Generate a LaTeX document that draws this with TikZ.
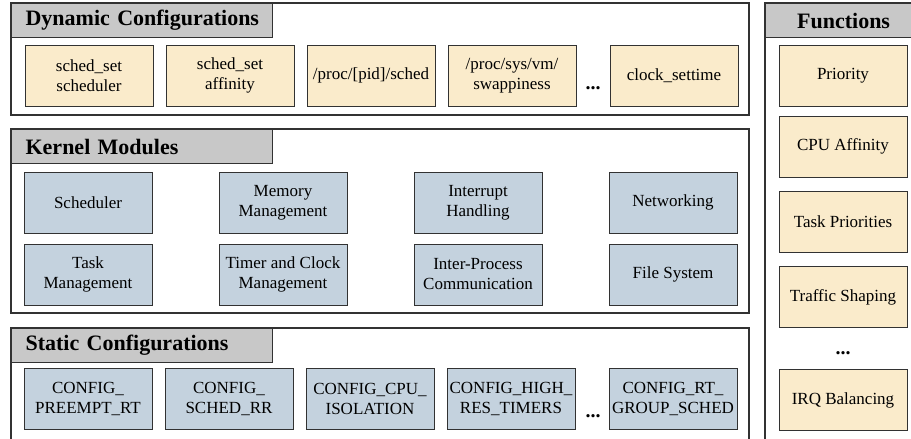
\documentclass[tikz,border=0pt]{standalone}
\usepackage{fontspec}
\setmainfont{DejaVu Serif}
\newfontfamily\timesfont{Liberation Serif}
\usetikzlibrary{positioning}
\definecolor{cfgcolor}{RGB}{250,235,203}
\definecolor{modcolor}{RGB}{196,210,222}
\definecolor{headcolor}{RGB}{200,200,200}
\definecolor{edgecolor}{RGB}{50,50,50}

\begin{document}
\begin{tikzpicture}[
    x=1pt, y=-1pt,
    node distance=10pt and 12pt,
    panel/.style={draw=edgecolor, line width=1.2pt, fill=white},
    head/.style={draw=edgecolor, line width=1.2pt, fill=headcolor, anchor=north west,
                 minimum height=34pt, inner xsep=14pt, inner ysep=0pt,
                 font=\fontsize{22}{26}\selectfont\timesfont\bfseries},
    box/.style={draw=edgecolor, line width=1pt, minimum width=128pt,
                minimum height=61pt, inner sep=1pt, align=center,
                font=\fontsize{17}{20}\selectfont\timesfont},
    cfg/.style={box, fill=cfgcolor},
    mod/.style={box, fill=modcolor},
    more/.style={inner sep=0pt, font=\fontsize{20}{20}\selectfont\timesfont\bfseries}
  ]
    \clip (0,0) rectangle (911,439);

    %% Panels
    \draw[panel] (11,3)   rectangle (749,115);
    \draw[panel] (11,129) rectangle (749,313);
    \draw[panel] (11,328) rectangle (749,460);
    \draw[panel] (765,3)  rectangle (921,460);

    \node[head, text width=233pt, align=left] (hdyn) at (11,3) {\mbox{Dynamic Configurations}};
    \node[head, text width=233pt, align=left] (hmod) at (11,129) {Kernel Modules};
    \node[head, text width=233pt, align=left] (hsta) at (11,328) {Static Configurations};
    \node[head, text width=128pt, align=center] (hfun) at (765,3) {Functions};

    %% Row 1: Dynamic configurations
    \node[cfg] (d1) at (89,75.5) {sched\_set\\scheduler};
    \node[cfg, right=of d1] (d2) {sched\_set\\affinity};
    \node[cfg, right=of d2] (d3) {/proc/[pid]/sched};
    \node[cfg, right=of d3] (d4) {/proc/sys/vm/\\swappiness};
    \node[more] (dmore) at (593,88) {...};
    \node[cfg] (d5) at (674,75.5) {clock\_settime};

    %% Kernel modules
    \node[mod] (m1) at (88,202.5) {Scheduler};
    \node[mod, right=66pt of m1] (m2) {Memory\\Management};
    \node[mod, right=66pt of m2] (m3) {Interrupt\\Handling};
    \node[mod, right=66pt of m3] (m4) {Networking};
    \node[mod, below=of m1] (m5) {Task\\Management};
    \node[mod, below=of m2] (m6) {Timer and Clock\\Management};
    \node[mod, below=of m3] (m7) {Inter-Process\\Communication};
    \node[mod, below=of m4] (m8) {File System};

    %% Static configurations
    \node[mod] (s1) at (88,399) {CONFIG\_\\PREEMPT\_RT};
    \node[mod, right=of s1] (s2) {CONFIG\_\\SCHED\_RR};
    \node[mod, right=of s2] (s3) {CONFIG\_CPU\_\\ISOLATION};
    \node[mod, right=of s3] (s4) {CONFIG\_HIGH\_\\RES\_TIMERS};
    \node[more] (smore) at (593,416) {...};
    \node[mod] (s5) at (673,399) {CONFIG\_RT\_\\GROUP\_SCHED};

    %% Functions
    \node[cfg] (f1) at (843,75.5) {Priority};
    \node[cfg] (f2) at (843,146.5) {CPU Affinity};
    \node[cfg] (f3) at (843,222) {Task Priorities};
    \node[cfg] (f4) at (843,297) {Traffic Shaping};
    \node[more] (fmore) at (843,353) {...};
    \node[cfg] (f5) at (843,400) {IRQ Balancing};
  \end{tikzpicture}
\end{document}
